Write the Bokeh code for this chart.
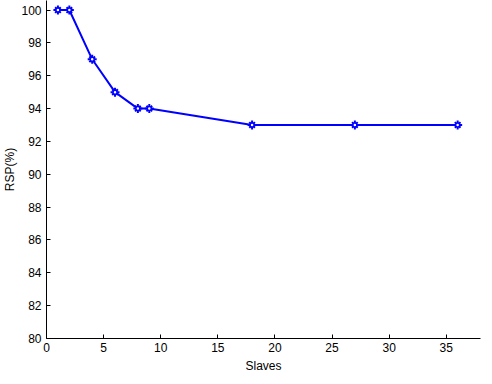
from bokeh.plotting import figure
from bokeh.embed import file_html
from bokeh.resources import INLINE
from bokeh.models import Range1d, FixedTicker

slaves = [1, 2, 4, 6, 8, 9, 18, 27, 36]
rsp = [100, 100, 97, 95, 94, 94, 93, 93, 93]
x_ticks = [0, 5, 10, 15, 20, 25, 30, 35]
y_ticks = [80, 82, 84, 86, 88, 90, 92, 94, 96, 98, 100]

p = figure(width=490, height=384, output_backend="svg", toolbar_location=None,
           x_range=Range1d(0, 38), y_range=Range1d(80, 100.58),
           min_border_left=46, min_border_right=10, min_border_top=0, min_border_bottom=46)
p.outline_line_color = None
p.xgrid.grid_line_color = None
p.ygrid.grid_line_color = None

p.line(slaves, rsp, line_color="#0000ff", line_width=2)
p.scatter(slaves, rsp, marker="cross", size=9, line_color="#0000ff", line_width=2)
p.scatter(slaves, rsp, marker="x", size=8, line_color="#0000ff", line_width=2)
p.scatter(slaves, rsp, marker="circle", size=4, fill_color="white", line_color="#0000ff", line_width=1.5)

for ax in (p.xaxis[0], p.yaxis[0]):
    ax.major_tick_in = 4
    ax.major_tick_out = 0
    ax.minor_tick_in = 0
    ax.minor_tick_out = 0
    ax.axis_line_color = "black"
    ax.major_tick_line_color = "black"
    ax.major_label_text_font = "Liberation Sans"
    ax.major_label_text_font_size = "12px"
    ax.major_label_text_color = "black"
    ax.axis_label_text_font = "Liberation Sans"
    ax.axis_label_text_font_size = "12px"
    ax.axis_label_text_font_style = "normal"
    ax.axis_label_text_color = "black"

p.xaxis[0].ticker = FixedTicker(ticks=x_ticks)
p.yaxis[0].ticker = FixedTicker(ticks=y_ticks)
p.xaxis[0].axis_label = "Slaves"
p.yaxis[0].axis_label = "RSP(%)"
p.xaxis[0].major_label_standoff = 4
p.xaxis[0].axis_label_standoff = 4
p.yaxis[0].major_label_standoff = 5
p.yaxis[0].axis_label_standoff = 1

open("out.html", "w").write(file_html(p, INLINE))
